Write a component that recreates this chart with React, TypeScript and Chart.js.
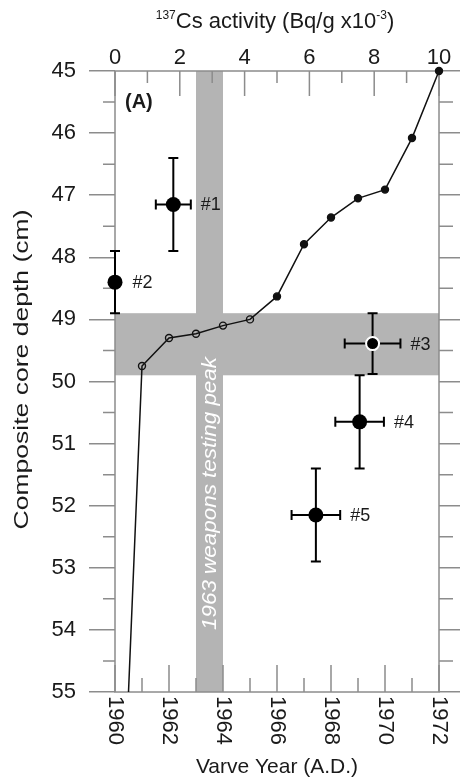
import React, { useEffect, useRef } from 'react';
import { Chart, registerables } from 'chart.js';

Chart.register(...registerables);

const FONT = "'Liberation Sans', Arial, Helvetica, sans-serif";

// Varve-year chronology (bottom axis) vs composite depth
const varveYears = [1960.5, 1961, 1962, 1963, 1964, 1965, 1966, 1967, 1968, 1969, 1970, 1971, 1972];
const varveDepths = [55, 49.75, 49.3, 49.23, 49.1, 49.0, 48.63, 47.79, 47.36, 47.05, 46.91, 46.08, 45.0];
const varveMarker = ['none', 'open', 'open', 'open', 'open', 'open', 'filled', 'filled', 'filled', 'filled', 'filled', 'filled', 'filled'];

// 137Cs samples (top axis)
const sampleLabels = ['#1', '#2', '#3', '#4', '#5'];
const csActivity = [1.8, 0, 7.95, 7.55, 6.2];
const csActivityErr = [0.54, 0, 0.86, 0.75, 0.75];
const sampleDepths = [47.15, 48.4, 49.39, 50.65, 52.15];
const sampleDepthErr = [0.75, 0.5, 0.49, 0.75, 0.75];
const sampleHighlight = [false, false, true, false, false];

// Axes
const yearTicks = [1960, 1961, 1962, 1963, 1964, 1965, 1966, 1967, 1968, 1969, 1970, 1971, 1972];
const yearLabelTicks = [1960, 1962, 1964, 1966, 1968, 1970, 1972];
const csTicks = [0, 1, 2, 3, 4, 5, 6, 7, 8, 9, 10];
const csLabelTicks = [0, 2, 4, 6, 8, 10];
const depthMinorTicks = [45.5, 46.5, 47.5, 48.5, 49.5, 50.5, 51.5, 52.5, 53.5, 54.5];

// Highlight bands
const peakYears = [1963, 1964];
const peakDepths = [48.9, 49.9];
const peakLabel = '1963 weapons testing peak';
const panelLabel = '(A)';

const GRAY = '#8c8c8c';
const BAND = '#b4b4b4';
const INK = '#1a1a1a';

const decor = {
  id: 'decor',
  beforeDatasetsDraw(chart: any) {
    const { ctx, chartArea: a, scales } = chart;
    const x = scales.x, xc = scales.xCs, y = scales.y;
    ctx.save();
    // bands
    ctx.fillStyle = BAND;
    const bx1 = x.getPixelForValue(peakYears[0]);
    const bx2 = x.getPixelForValue(peakYears[1]);
    ctx.fillRect(bx1, a.top, bx2 - bx1, a.bottom - a.top);
    const by1 = y.getPixelForValue(peakDepths[0]);
    const by2 = y.getPixelForValue(peakDepths[1]);
    ctx.fillRect(a.left, by1, a.right - a.left, by2 - by1);

    // band label
    ctx.save();
    ctx.translate((bx1 + bx2) / 2, a.bottom - 62);
    ctx.rotate(-Math.PI / 2);
    ctx.font = `italic 20px ${FONT}`;
    const w = ctx.measureText(peakLabel).width;
    ctx.scale(273 / w, 1);
    ctx.fillStyle = '#ffffff';
    ctx.textAlign = 'left';
    ctx.textBaseline = 'middle';
    ctx.fillText(peakLabel, 0, 1);
    ctx.restore();

    // frame
    ctx.strokeStyle = GRAY;
    ctx.lineWidth = 1.5;
    ctx.strokeRect(a.left, a.top, a.right - a.left, a.bottom - a.top);

    // inward ticks top (Cs) and bottom (years)
    ctx.beginPath();
    csTicks.forEach((v) => {
      const px = xc.getPixelForValue(v);
      const len = v % 2 === 0 ? 25 : 12;
      ctx.moveTo(px, a.top);
      ctx.lineTo(px, a.top + len);
    });
    yearTicks.forEach((v) => {
      const px = x.getPixelForValue(v);
      const len = v % 2 === 0 ? 27 : 14;
      ctx.moveTo(px, a.bottom);
      ctx.lineTo(px, a.bottom - len);
    });
    // minor depth ticks, outward
    depthMinorTicks.forEach((v) => {
      const py = y.getPixelForValue(v);
      ctx.moveTo(a.left - 12, py);
      ctx.lineTo(a.left, py);
      ctx.moveTo(a.right, py);
      ctx.lineTo(a.right + 14, py);
    });
    ctx.stroke();

    // error bars
    ctx.strokeStyle = '#000';
    ctx.lineWidth = 2;
    ctx.beginPath();
    sampleLabels.forEach((_, i) => {
      const cx = xc.getPixelForValue(csActivity[i]);
      const cy = y.getPixelForValue(sampleDepths[i]);
      if (csActivityErr[i] > 0) {
        const l = xc.getPixelForValue(csActivity[i] - csActivityErr[i]);
        const r = xc.getPixelForValue(csActivity[i] + csActivityErr[i]);
        ctx.moveTo(l, cy); ctx.lineTo(r, cy);
        ctx.moveTo(l, cy - 5); ctx.lineTo(l, cy + 5);
        ctx.moveTo(r, cy - 5); ctx.lineTo(r, cy + 5);
      }
      if (sampleDepthErr[i] > 0) {
        const t = y.getPixelForValue(sampleDepths[i] - sampleDepthErr[i]);
        const b = y.getPixelForValue(sampleDepths[i] + sampleDepthErr[i]);
        ctx.moveTo(cx, t); ctx.lineTo(cx, b);
        ctx.moveTo(cx - 5, t); ctx.lineTo(cx + 5, t);
        ctx.moveTo(cx - 5, b); ctx.lineTo(cx + 5, b);
      }
    });
    ctx.stroke();
    ctx.restore();
  },
  afterDraw(chart: any) {
    const { ctx, chartArea: a, scales } = chart;
    const x = scales.x, xc = scales.xCs, y = scales.y;
    ctx.save();
    ctx.fillStyle = INK;

    // sample labels
    ctx.font = `18px ${FONT}`;
    ctx.textAlign = 'left';
    ctx.textBaseline = 'middle';
    sampleLabels.forEach((lab, i) => {
      const cx = xc.getPixelForValue(csActivity[i]);
      const r = xc.getPixelForValue(csActivity[i] + csActivityErr[i]);
      const px = Math.max(r, cx + 7.5) + 10;
      ctx.fillText(lab, px, y.getPixelForValue(sampleDepths[i]) + 1);
    });

    // panel label
    ctx.font = `bold 20px ${FONT}`;
    ctx.fillText(panelLabel, a.left + 10, a.top + 31);

    // top tick labels
    ctx.font = `22px ${FONT}`;
    ctx.textAlign = 'center';
    ctx.textBaseline = 'alphabetic';
    csLabelTicks.forEach((v) => {
      ctx.fillText(String(v), xc.getPixelForValue(v), a.top - 7);
    });

    // bottom year labels (rotated, reading downward)
    yearLabelTicks.forEach((v) => {
      ctx.save();
      ctx.translate(x.getPixelForValue(v), a.bottom + 4);
      ctx.rotate(Math.PI / 2);
      ctx.textAlign = 'left';
      ctx.textBaseline = 'middle';
      ctx.fillText(String(v), 0, 0);
      ctx.restore();
    });

    // bottom title
    ctx.textAlign = 'center';
    ctx.textBaseline = 'alphabetic';
    ctx.font = `21px ${FONT}`;
    ctx.fillText('Varve Year (A.D.)', (a.left + a.right) / 2, a.bottom + 81);

    // top title with superscripts
    const parts: [string, number, number][] = [
      ['137', 12, -9],
      ['Cs activity (Bq/g x10', 22, 0],
      ['-3', 12, -9],
      [')', 22, 0],
    ];
    let total = 0;
    parts.forEach(([t, s]) => { ctx.font = `${s}px ${FONT}`; total += ctx.measureText(t).width; });
    let tx = (a.left + a.right) / 2 - 2 - total / 2;
    ctx.textAlign = 'left';
    parts.forEach(([t, s, dy]) => {
      ctx.font = `${s}px ${FONT}`;
      ctx.fillText(t, tx, 28 + dy);
      tx += ctx.measureText(t).width;
    });

    // left axis title (rotated)
    ctx.save();
    ctx.translate(22, (a.top + a.bottom) / 2 - 12);
    ctx.rotate(-Math.PI / 2);
    ctx.font = `21px ${FONT}`;
    const yt = 'Composite core depth (cm)';
    const yw = ctx.measureText(yt).width;
    ctx.scale(320 / yw, 1);
    ctx.textAlign = 'center';
    ctx.textBaseline = 'middle';
    ctx.fillText(yt, 0, 0);
    ctx.restore();

    ctx.restore();
  },
};

export default function App() {
  const ref = useRef<HTMLCanvasElement | null>(null);
  useEffect(() => {
    if (!ref.current) return;
    const chart = new Chart(ref.current, {
      type: 'scatter',
      data: {
        datasets: [
          {
            label: 'Varve chronology',
            data: varveYears.map((v, i) => ({ x: v, y: varveDepths[i] })),
            xAxisID: 'x',
            yAxisID: 'y',
            showLine: true,
            borderColor: '#111',
            borderWidth: 1.5,
            pointRadius: varveMarker.map((m) => (m === 'none' ? 0 : 3.5)),
            pointBackgroundColor: varveMarker.map((m) => (m === 'filled' ? '#111' : 'rgba(0,0,0,0)')),
            pointBorderColor: '#111',
            pointBorderWidth: 1.4,
            clip: false as any,
          },
          {
            label: '137Cs activity',
            data: csActivity.map((v, i) => ({ x: v, y: sampleDepths[i] })),
            xAxisID: 'xCs',
            yAxisID: 'y',
            showLine: false,
            pointRadius: sampleHighlight.map((h) => (h ? 6.5 : 7.5)),
            pointBackgroundColor: '#000',
            pointBorderColor: sampleHighlight.map((h) => (h ? '#ffffff' : '#000')),
            pointBorderWidth: sampleHighlight.map((h) => (h ? 2 : 0)),
            clip: false as any,
          },
        ],
      },
      options: {
        responsive: false,
        animation: false,
        events: [],
        layout: { padding: 0 },
        plugins: { legend: { display: false }, tooltip: { enabled: false } },
        scales: {
          x: {
            type: 'linear', position: 'bottom', min: 1960, max: 1972,
            ticks: { display: false }, grid: { display: false }, border: { display: false },
            afterFit: (s: any) => { s.height = 86; },
          },
          xCs: {
            type: 'linear', position: 'top', min: 0, max: 10,
            ticks: { display: false }, grid: { display: false }, border: { display: false },
            afterFit: (s: any) => { s.height = 71; },
          },
          y: {
            type: 'linear', position: 'left', reverse: true, min: 45, max: 55,
            ticks: { stepSize: 1, padding: 13, color: INK, font: { size: 22, family: FONT } },
            grid: { drawOnChartArea: false, tickLength: 26, color: GRAY, lineWidth: 1.5 },
            border: { display: false },
            afterFit: (s: any) => { s.width = 115; },
          },
          yR: {
            type: 'linear', position: 'right', reverse: true, min: 45, max: 55,
            ticks: { stepSize: 1, display: false },
            grid: { drawOnChartArea: false, tickLength: 21, color: GRAY, lineWidth: 1.5 },
            border: { display: false },
            afterFit: (s: any) => { s.width = 24; },
          },
        } as any,
      },
      plugins: [decor],
    } as any);
    return () => chart.destroy();
  }, []);
  return (
    <div style={{ position: 'fixed', left: 0, top: 0, width: 463, height: 778, background: '#fff' }}>
      <canvas ref={ref} width={463} height={778} style={{ display: 'block' }} />
    </div>
  );
}
